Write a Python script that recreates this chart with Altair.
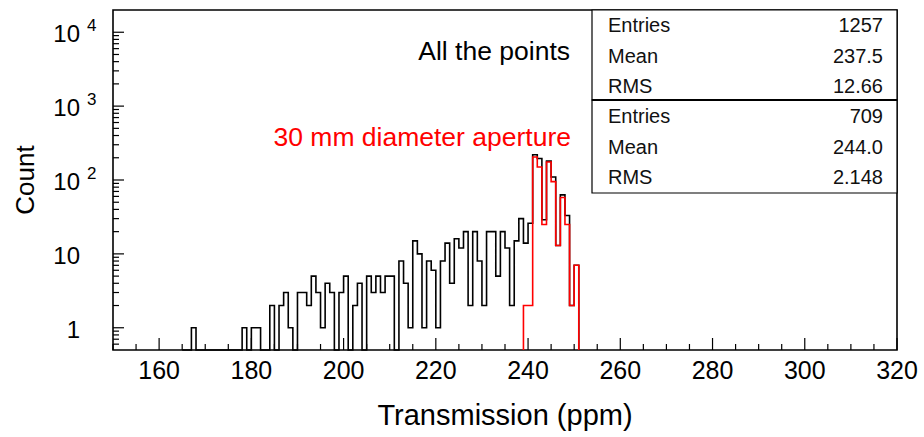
import altair as alt
import pandas as pd

# ---------------- data ----------------
# black histogram: "All the points", 1-ppm bins, lower edges 165..250
bin_low_all = list(range(165, 251))
counts_all = [
    0, 0, 1, 0, 0, 0, 0, 0, 0, 0, 0, 0, 0,      # 165-177
    1, 0, 1, 1, 0, 0,                           # 178-183
    2, 0, 2, 3, 1, 0,                           # 184-189
    3, 3, 2, 5, 3, 1, 4, 3, 0,                  # 190-198
    3, 5, 0, 2, 4, 0,                           # 199-204
    5, 3, 5, 3, 5, 5, 0,                        # 205-211
    8, 4, 1,                                    # 212-214
    15, 10, 1, 8, 6, 1, 8, 14, 4, 16,           # 215-224
    12, 20, 2, 20, 8, 2, 20, 20, 5, 20,         # 225-234
    12, 2, 15, 30, 14, 26,                      # 235-240
    220, 195, 29, 180, 110, 13, 63, 33, 2, 7,   # 241-250
]
# red histogram: "30 mm diameter aperture"
bin_low_ap = list(range(239, 251))
counts_ap = [2, 2, 205, 150, 25, 175, 95, 13, 58, 25, 2, 7]

x_label_values = [160, 180, 200, 220, 240, 260, 280, 300, 320]
y_label_values = [1, 10, 100, 1000, 10000]
y_label_base = ["1", "10", "10", "10", "10"]
y_label_exp = ["", "", "2", "3", "4"]

stat_names = ["Entries", "Mean", "RMS"]
stats_all = ["1257", "237.5", "12.66"]
stats_ap = ["709", "244.0", "2.148"]

X_DOMAIN = [150, 320]
Y_DOMAIN = [0.5, 20000]
FONT = "Liberation Sans"

W, H = 784, 340

xscale = alt.Scale(domain=X_DOMAIN, nice=False, zero=False)
yscale = alt.Scale(type="log", domain=Y_DOMAIN, nice=False)


def step_table(lows, counts, floor):
    rows = []
    k = 0
    rows.append({"x": lows[0], "y": floor, "o": k}); k += 1
    for lo, c in zip(lows, counts):
        v = c if c > 0 else floor
        rows.append({"x": lo, "y": v, "o": k}); k += 1
        rows.append({"x": lo + 1, "y": v, "o": k}); k += 1
    rows.append({"x": lows[-1] + 1, "y": floor, "o": k})
    return pd.DataFrame(rows)


def hist_layer(lows, counts, color):
    df = step_table(lows, counts, Y_DOMAIN[0])
    return alt.Chart(df).mark_line(color=color, strokeWidth=1.6, interpolate="linear").encode(
        x=alt.X("x:Q", scale=xscale, axis=None),
        y=alt.Y("y:Q", scale=yscale, axis=None),
        order="o:Q",
    )


def text_layer(s, x, y, size, color="black", align="left", angle=None):
    kw = dict(font=FONT, fontSize=size, color=color, align=align, baseline="middle")
    if angle is not None:
        kw["angle"] = angle
    return alt.Chart(pd.DataFrame({"t": [s]})).mark_text(**kw).encode(
        x=alt.value(x), y=alt.value(y), text="t:N"
    )


layers = []

# histograms
layers.append(hist_layer(bin_low_all, counts_all, "black"))
layers.append(hist_layer(bin_low_ap, counts_ap, "#ff0000"))

# inward x ticks
x_minor = [v for v in range(150, 321, 5) if v % 20 != 0]
x_major = [v for v in range(160, 321, 20)]
layers.append(alt.Chart(pd.DataFrame({"v": x_minor})).mark_rule(color="black", strokeWidth=1.2).encode(
    x=alt.X("v:Q", scale=xscale, axis=None), y=alt.value(H), y2=alt.value(H - 6)))
layers.append(alt.Chart(pd.DataFrame({"v": x_major})).mark_rule(color="black", strokeWidth=1.2).encode(
    x=alt.X("v:Q", scale=xscale, axis=None), y=alt.value(H), y2=alt.value(H - 12)))

# inward y ticks (log)
y_minor = [0.6, 0.7, 0.8, 0.9] + [k * 10 ** d for d in range(0, 4) for k in range(2, 10)]
layers.append(alt.Chart(pd.DataFrame({"v": y_minor})).mark_rule(color="black", strokeWidth=1.2).encode(
    y=alt.Y("v:Q", scale=yscale, axis=None), x=alt.value(0), x2=alt.value(6)))
layers.append(alt.Chart(pd.DataFrame({"v": y_label_values})).mark_rule(color="black", strokeWidth=1.2).encode(
    y=alt.Y("v:Q", scale=yscale, axis=None), x=alt.value(0), x2=alt.value(11)))

# x tick labels
layers.append(alt.Chart(pd.DataFrame({"v": x_label_values, "t": [str(v) for v in x_label_values]})).mark_text(
    font=FONT, fontSize=25, color="black", align="center", baseline="middle").encode(
    x=alt.X("v:Q", scale=xscale, axis=None), y=alt.value(H + 21), text="t:N"))

# y tick labels: base and exponent
ydf = pd.DataFrame({"v": y_label_values, "b": y_label_base, "e": y_label_exp})
layers.append(alt.Chart(ydf).mark_text(
    font=FONT, fontSize=24, color="black", align="right", baseline="middle", dy=3).encode(
    y=alt.Y("v:Q", scale=yscale, axis=None), x=alt.value(-33), text="b:N"))
layers.append(alt.Chart(ydf).mark_text(
    font=FONT, fontSize=17, color="black", align="left", baseline="middle", dy=-6).encode(
    y=alt.Y("v:Q", scale=yscale, axis=None), x=alt.value(-26), text="e:N"))

# axis titles
layers.append(text_layer("Transmission (ppm)", W / 2, 406, 29, align="center"))
layers.append(text_layer("Count", -87, 170, 26, align="center", angle=270))

# annotations
layers.append(text_layer("All the points", 457, 42, 26.5, align="right"))
layers.append(text_layer("30 mm diameter aperture", 458, 128, 26.5, color="#ff0000", align="right"))

# statistics boxes
box_left, box_right = 479, W
box_df = pd.DataFrame({"d": [0]})
layers.append(alt.Chart(box_df).mark_rect(fill="white", stroke="black", strokeWidth=1.2).encode(
    x=alt.value(box_left), x2=alt.value(box_right), y=alt.value(0), y2=alt.value(90)))
layers.append(alt.Chart(box_df).mark_rect(fill="white", stroke="black", strokeWidth=1.2).encode(
    x=alt.value(box_left), x2=alt.value(box_right), y=alt.value(90), y2=alt.value(183)))
layers.append(alt.Chart(box_df).mark_rule(color="black", strokeWidth=2.2).encode(
    x=alt.value(box_left), x2=alt.value(box_right), y=alt.value(90)))

row_y = [16, 47, 77, 107, 138, 168]
for i, name in enumerate(stat_names + stat_names):
    val = (stats_all + stats_ap)[i]
    layers.append(text_layer(name, 495, row_y[i], 20, color="#111111", align="left"))
    layers.append(text_layer(val, 770, row_y[i], 20, color="#111111", align="right"))

chart = alt.layer(*layers).properties(
    width=W,
    height=H,
    padding={"left": 113, "top": 10, "right": 27, "bottom": 87},
    autosize=alt.AutoSizeParams(type="none"),
    background="white",
).configure_view(stroke="black", strokeWidth=1.6)

chart.save("out.html", embed_options={"renderer": "svg", "actions": False})
